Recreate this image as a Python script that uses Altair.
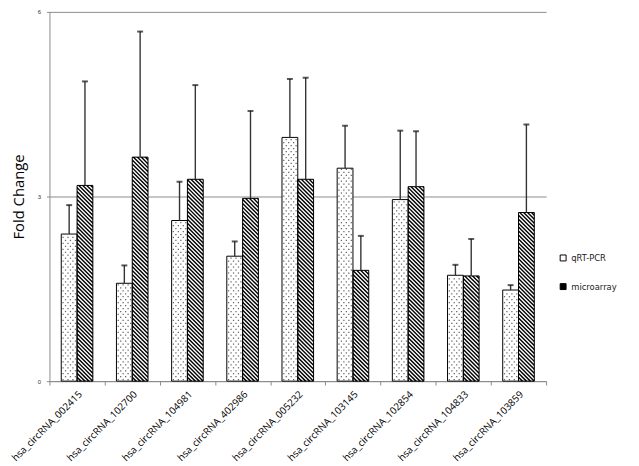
import altair as alt
import pandas as pd

# ---------------- data ----------------
categories = ["hsa_circRNA_002415", "hsa_circRNA_102700", "hsa_circRNA_104981",
              "hsa_circRNA_402986", "hsa_circRNA_005232", "hsa_circRNA_103145",
              "hsa_circRNA_102854", "hsa_circRNA_104833", "hsa_circRNA_103859"]
series = ["qRT-PCR", "microarray"]
qrt_values = [2.39, 1.59, 2.61, 2.03, 3.96, 3.46, 2.95, 1.72, 1.48]
qrt_errors = [0.47, 0.29, 0.63, 0.24, 0.95, 0.69, 1.12, 0.17, 0.08]
micro_values = [3.18, 3.64, 3.28, 2.97, 3.28, 1.80, 3.16, 1.71, 2.74]
micro_errors = [1.69, 2.04, 1.53, 1.42, 1.65, 0.56, 0.90, 0.60, 1.43]
y_ticks = [0, 3, 6]

# ---------------- layout constants ----------------
W, H = 503, 374
Y_MAX = 6
PAD_OUTER = 0.747                      # offset-band outer padding
N = len(categories)
PX_X = W / N                           # pixels per category unit
PX_Y = H / Y_MAX                       # pixels per value unit
BAR_FRAC = 1 / (2 + 2 * PAD_OUTER)     # bar width as fraction of a category
BAR_PX = BAR_FRAC * PX_X

rows = []
for c, q, qe, m, me in zip(categories, qrt_values, qrt_errors, micro_values, micro_errors):
    rows.append(dict(cat=c, series="qRT-PCR", value=q, upper=q + qe))
    rows.append(dict(cat=c, series="microarray", value=m, upper=m + me))
bars = pd.DataFrame(rows)

# hatch stripes (\\\) for microarray bars, derived from bar values
stripes = []
PERIOD = 4.0
for i, m in enumerate(micro_values):
    a = (i + 0.5) * PX_X
    h = m * PX_Y
    c = PERIOD / 2
    while c < BAR_PX + h:
        xs = max(0.0, c - h)
        xe = min(BAR_PX, c)
        if xe > xs:
            stripes.append(dict(x=(a + xs) / PX_X, y=(c - xs) / PX_Y,
                                x2=(a + xe) / PX_X, y2=(c - xe) / PX_Y))
        c += PERIOD
stripes = pd.DataFrame(stripes)

# dotted fill for qRT-PCR bars, derived from bar values
dots = []
DX, DY = 5.0, 3.0
for i, q in enumerate(qrt_values):
    a = (i + 0.5) * PX_X - BAR_PX
    h = q * PX_Y
    j = 0
    y = 1.5
    while y < h - 1:
        x = 1.8 if j % 2 == 0 else 4.3
        while x < BAR_PX - 1:
            dots.append(dict(x=(a + x) / PX_X, y=y / PX_Y))
            x += DX
        y += DY
        j += 1
dots = pd.DataFrame(dots)

# ---------------- encodings ----------------
y_axis = alt.Axis(values=y_ticks, grid=True, gridColor="#8a8a8a", gridWidth=1,
                  domainColor="#8a8a8a", tickColor="#8a8a8a", tickSize=3,
                  labelFontSize=6, labelColor="#333333", labelPadding=6,
                  title="Fold Change", titleFont="Open Sans", titleFontSize=15,
                  titleFontWeight="normal", titleColor="#000000", titlePadding=11)
y_scale = alt.Scale(domain=[0, Y_MAX], nice=False, zero=True)

x_band = alt.X("cat:N", sort=categories,
               scale=alt.Scale(paddingInner=0, paddingOuter=0),
               axis=alt.Axis(title=None, labelAngle=-45, ticks=False, domain=False,
                             labelFontSize=10, labelFont="Open Sans", labelColor="#000000",
                             labelPadding=8, orient="bottom"))
x_band_hidden = alt.X("cat:N", sort=categories,
                      scale=alt.Scale(paddingInner=0, paddingOuter=0), axis=None)
x_off = alt.XOffset("series:N", sort=series,
                    scale=alt.Scale(paddingInner=0, paddingOuter=PAD_OUTER))

fill_layer = alt.Chart(bars).mark_bar(strokeWidth=0).encode(
    x=x_band, xOffset=x_off,
    y=alt.Y("value:Q", scale=y_scale, axis=y_axis),
    fill=alt.Fill("series:N", sort=series,
                  scale=alt.Scale(domain=series, range=["#ffffff", "#000000"]),
                  legend=alt.Legend(title=None, orient="none", legendX=516, legendY=245,
                                    symbolType="square", symbolSize=36,
                                    symbolStrokeColor="#000000", symbolStrokeWidth=1,
                                    labelFontSize=8.5, labelFont="DejaVu Sans",
                                    labelColor="#222222", rowPadding=18, labelOffset=4)),
)

x_quant = alt.X("x:Q", scale=alt.Scale(domain=[0, N], nice=False, zero=False),
                axis=alt.Axis(values=list(range(N + 1)), labels=False, title=None,
                              tickSize=4, tickColor="#8a8a8a", domainColor="#8a8a8a",
                              grid=False, orient="bottom"))

stripe_layer = alt.Chart(stripes).mark_rule(color="#ffffff", strokeWidth=1.4).encode(
    x=x_quant, x2="x2:Q",
    y=alt.Y("y:Q", scale=y_scale, axis=y_axis), y2="y2:Q",
)
dot_layer = alt.Chart(dots).mark_square(size=1.6, color="#666666", opacity=1).encode(
    x=x_quant,
    y=alt.Y("y:Q", scale=y_scale, axis=y_axis),
)
pattern = alt.layer(stripe_layer, dot_layer)

outline = alt.Chart(bars).mark_bar(fillOpacity=0, stroke="#000000", strokeWidth=1).encode(
    x=x_band_hidden, xOffset=x_off,
    y=alt.Y("value:Q", scale=y_scale, axis=y_axis),
)
err = alt.Chart(bars).mark_rule(color="#333333", strokeWidth=1.4).encode(
    x=x_band_hidden, xOffset=x_off,
    y=alt.Y("value:Q", scale=y_scale, axis=y_axis), y2="upper:Q",
)
caps = alt.Chart(bars).mark_tick(color="#111111", thickness=2, size=6, orient="horizontal").encode(
    x=x_band_hidden, xOffset=x_off,
    y=alt.Y("upper:Q", scale=y_scale, axis=y_axis),
)
top = alt.layer(outline, err, caps)

chart = alt.layer(fill_layer, pattern, top).resolve_scale(x="independent").properties(
    width=W, height=H,
    padding={"left": 42, "top": 1, "right": 86, "bottom": 80},
    autosize=alt.AutoSizeParams(type="none"),
    background="#ffffff",
).configure_view(stroke=None)

chart.save("out.html", embed_options={"renderer": "svg", "actions": False})
